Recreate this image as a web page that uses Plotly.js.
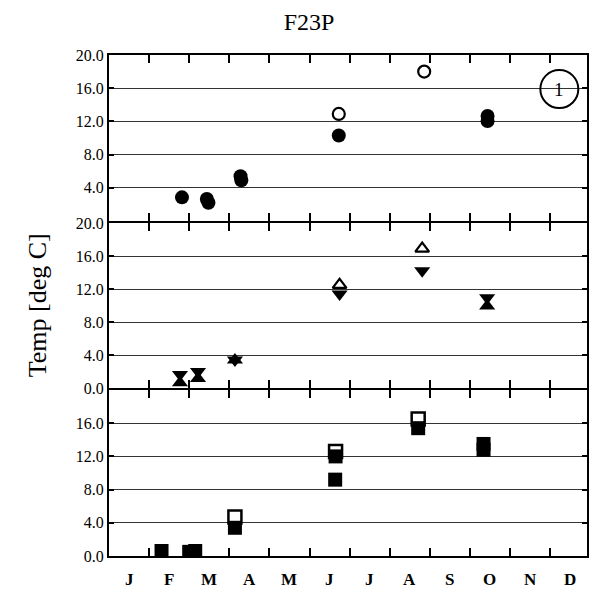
<!DOCTYPE html>
<html>
<head>
<meta charset="utf-8">
<script src="https://cdn.plot.ly/plotly-3.0.1.min.js"></script>
<style>html,body{margin:0;padding:0;background:#fff;}#chart{width:589px;height:592px;}</style>
</head>
<body>
<div id="chart"></div>
<script>
// Month labels (x in month units, 0 = 1 Jan)
const monthLabels = ['J','F','M','A','M','J','J','A','S','O','N','D'];
const monthCenters = [0.5,1.5,2.5,3.5,4.5,5.5,6.5,7.5,8.5,9.5,10.5,11.5];
const monthBounds = [1,2,3,4,5,6,7,8,9,10,11];

// Top panel: circles
const topOpenX = [5.73, 7.86];
const topOpenY = [12.9, 18.0];
const topFilledX = [1.82, 2.44, 2.48, 3.28, 3.30, 5.73, 9.44, 9.44];
const topFilledY = [2.85, 2.65, 2.2, 5.4, 4.9, 10.3, 12.65, 12.05];

// Middle panel: triangles
const midOpenUpX = [5.75, 7.81];
const midOpenUpY = [12.5, 16.9];
const midDownX = [1.77, 2.22, 3.14, 5.75, 7.81, 9.43];
const midDownY = [1.65, 2.0, 3.4, 11.4, 14.2, 10.95];
const midUpX = [1.77, 2.22, 3.14, 9.43];
const midUpY = [0.65, 1.15, 3.4, 9.95];

// Bottom panel: squares
const botOpenX = [3.14, 5.65, 7.71];
const botOpenY = [4.7, 12.6, 16.5];
const botFilledX = [1.31, 2.0, 2.15, 3.14, 5.65, 5.64, 7.71, 9.34, 9.34];
const botFilledY = [0.6, 0.5, 0.6, 3.4, 12.0, 9.2, 15.4, 13.5, 12.8];

// y tick values per panel
const topTicks = [4, 8, 12, 16, 20];
const midTicks = [0, 4, 8, 12, 16, 20];
const botTicks = [0, 4, 8, 12, 16];
const fmt = v => v.toFixed(1);

const openLine = {color:'#000', width:2.2};
const traces = [
  {x: topOpenX, y: topOpenY, xaxis:'x3', yaxis:'y3', mode:'markers', type:'scatter',
   marker:{symbol:'circle', size:12, color:'#fff', line:openLine}},
  {x: topFilledX, y: topFilledY, xaxis:'x3', yaxis:'y3', mode:'markers', type:'scatter',
   marker:{symbol:'circle', size:14, color:'#000', line:{width:0}}},
  {x: midOpenUpX, y: midOpenUpY, xaxis:'x2', yaxis:'y2', mode:'markers', type:'scatter',
   marker:{symbol:'triangle-up', size:12, color:'#fff', line:openLine}},
  {x: midDownX, y: midDownY, xaxis:'x2', yaxis:'y2', mode:'markers', type:'scatter',
   marker:{symbol:'triangle-down', size:14, color:'#000', line:{width:0}}},
  {x: midUpX, y: midUpY, xaxis:'x2', yaxis:'y2', mode:'markers', type:'scatter',
   marker:{symbol:'triangle-up', size:14, color:'#000', line:{width:0}}},
  {x: botOpenX, y: botOpenY, xaxis:'x', yaxis:'y', mode:'markers', type:'scatter',
   marker:{symbol:'square', size:13, color:'#fff', line:{color:'#000', width:2.5}}},
  {x: botFilledX, y: botFilledY, xaxis:'x', yaxis:'y', mode:'markers', type:'scatter',
   marker:{symbol:'square', size:14, color:'#000', line:{width:0}}}
];

const xRange = [0, 11.92];
function xAx(anchor){
  return {anchor: anchor, range: xRange, tickmode:'array', tickvals: monthBounds,
    ticktext: monthBounds.map(String),
    ticks:'inside', ticklen:8, tickwidth:2, tickcolor:'#000', showticklabels:false,
    showline:true, linewidth:2, linecolor:'#000', mirror:'ticks',
    showgrid:false, zeroline:false, fixedrange:true};
}
function yAx(anchor, domain, ticks){
  return {anchor: anchor, domain: domain, range:[0,20], tickmode:'array',
    tickvals: ticks, ticktext: ticks.map(fmt),
    ticks:'inside', ticklen:5, tickwidth:2, tickcolor:'#000',
    showline:true, linewidth:2, linecolor:'#000', mirror:'ticks',
    showgrid:true, gridcolor:'#333', gridwidth:1, zeroline:false,
    tickfont:{size:16, color:'#000'}, fixedrange:true};
}

const H = 501; // plot area height in px
const monthAnnots = monthLabels.map((m, i) => ({
  text: '<b>' + m + '</b>', xref:'x', yref:'paper', x: monthCenters[i], y: -23/H,
  showarrow:false, xanchor:'center', yanchor:'middle', font:{size:17, color:'#000'}
}));

const layout = {
  width:589, height:592,
  margin:{l:109, r:2, t:55, b:36},
  paper_bgcolor:'#fff', plot_bgcolor:'#fff',
  showlegend:false,
  font:{family:'"Liberation Serif", "Times New Roman", serif', color:'#000'},
  title:{text:'F23P', x:309/589, xanchor:'center', y:1-22/592, yanchor:'middle',
         font:{size:24, color:'#000'}},
  xaxis: xAx('y'),
  xaxis2: xAx('y2'),
  xaxis3: xAx('y3'),
  yaxis: yAx('x', [0, 166/H], botTicks),
  yaxis2: yAx('x2', [168/H, 333/H], midTicks),
  yaxis3: yAx('x3', [335/H, 1], topTicks),
  shapes:[
    {type:'circle', xref:'x3', yref:'y3', xsizemode:'pixel', ysizemode:'pixel',
     xanchor:11.23, yanchor:15.9, x0:-19, x1:19, y0:-19, y1:19,
     line:{color:'#000', width:2}}
  ],
  annotations: monthAnnots.concat([
    {text:'1', xref:'x3', yref:'y3', x:11.23, y:15.9, showarrow:false,
     font:{size:19, color:'#000'}, xanchor:'center', yanchor:'middle'},
    {text:'Temp [deg C]', xref:'paper', yref:'paper', x:-0.149, y:0.5, textangle:-90,
     showarrow:false, xanchor:'center', yanchor:'middle', font:{size:26, color:'#000'}}
  ])
};

Plotly.newPlot('chart', traces, layout, {displayModeBar:false, staticPlot:true});
</script>
</body>
</html>
